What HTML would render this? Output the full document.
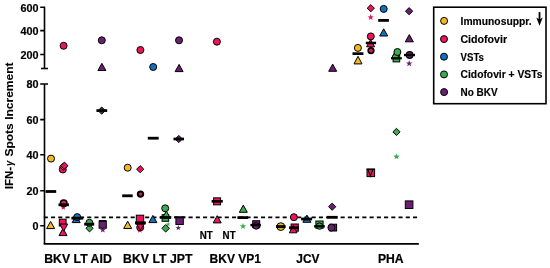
<!DOCTYPE html>
<html><head><meta charset="utf-8"><style>
html,body{margin:0;padding:0;background:#fff;}
body{width:550px;height:268px;overflow:hidden;}
svg{display:block;will-change:transform;}
</style></head><body>
<svg width="550" height="268" viewBox="0 0 550 268">
<rect width="550" height="268" fill="#fff"/>

<g stroke="#000" stroke-width="1.6" fill="none" stroke-linecap="butt">
  <path d="M40.2 7.3H44.5V68.5"/>
  <path d="M41.0 68.5H48.0"/>
  <path d="M40.2 30.6H44.5M40.2 54.5H44.5"/>
  <path d="M40.2 84.0H48.0M44.5 84.0V243.9"/>
  <path d="M43.7 243.9H418.8" stroke-width="1.9"/>
  <path d="M40.2 119.6H44.5M40.2 154.8H44.5M40.2 190.8H44.5M40.2 225.8H44.5"/>
</g>
<path d="M43.76 217.4H418" stroke="#000" stroke-width="1.6" stroke-dasharray="4.1 3.14" fill="none"/>

<circle cx="51.0" cy="158.6" r="3.5" fill="#F6B822" stroke="#000" stroke-width="1.0"/>
<path d="M50.60 221.40L54.60 228.60L46.60 228.60Z" fill="#F6B822" stroke="#000" stroke-width="1.0" stroke-linejoin="miter"/>
<rect x="45.60" y="190.10" width="10.60" height="2.8" fill="#000"/>
<circle cx="63.6" cy="45.8" r="3.5" fill="#EB165A" stroke="#000" stroke-width="1.0"/>
<circle cx="62.8" cy="169.5" r="3.5" fill="#EB165A" stroke="#000" stroke-width="1.0"/>
<path d="M63.20 163.10L66.80 166.70L63.20 170.30L59.60 166.70Z" fill="#EB165A" stroke="#000" stroke-width="1.0"/>
<path d="M64.40 162.10L68.00 165.70L64.40 169.30L60.80 165.70Z" fill="#EB165A" stroke="#000" stroke-width="1.0"/>
<polygon points="63.30,204.40 64.04,206.38 66.15,206.47 64.50,207.79 65.06,209.83 63.30,208.66 61.54,209.83 62.10,207.79 60.45,206.47 62.56,206.38" fill="#EB165A"/>
<circle cx="63.7" cy="203.2" r="3.3" fill="#EB165A" stroke="#000" stroke-width="1.5"/>
<rect x="58.50" y="203.40" width="10.40" height="2.8" fill="#000"/>
<path d="M63.00 228.40L67.00 235.60L59.00 235.60Z" fill="#EB165A" stroke="#000" stroke-width="1.0" stroke-linejoin="miter"/>
<rect x="59.30" y="219.20" width="6.80" height="6.80" fill="#EB165A" stroke="#000" stroke-width="1.0"/>
<path d="M63.70 231.20L67.70 224.00L59.70 224.00Z" fill="#EB165A" stroke="#000" stroke-width="1.0"/>
<path d="M76.20 215.40L80.20 222.60L72.20 222.60Z" fill="#1270BC" stroke="#000" stroke-width="1.0" stroke-linejoin="miter"/>
<circle cx="77.2" cy="217.1" r="3.5" fill="#1270BC" stroke="#000" stroke-width="1.0"/>
<rect x="71.40" y="216.80" width="11.80" height="2.8" fill="#000"/>
<path d="M89.50 224.70L93.10 228.30L89.50 231.90L85.90 228.30Z" fill="#39AD4B" stroke="#000" stroke-width="1.0"/>
<circle cx="89.4" cy="222.8" r="3.5" fill="#39AD4B" stroke="#000" stroke-width="1.0"/>
<rect x="84.20" y="222.80" width="10.00" height="2.8" fill="#000"/>
<circle cx="101.8" cy="40.3" r="3.5" fill="#6A1F71" stroke="#000" stroke-width="1.0"/>
<path d="M101.90 63.30L105.90 70.50L97.90 70.50Z" fill="#6A1F71" stroke="#000" stroke-width="1.0" stroke-linejoin="miter"/>
<path d="M101.70 107.00L105.30 110.60L101.70 114.20L98.10 110.60Z" fill="#6A1F71" stroke="#000" stroke-width="1.0"/>
<rect x="96.40" y="109.25" width="10.80" height="2.7" fill="#000"/>
<polygon points="102.80,226.50 103.61,228.68 105.94,228.78 104.12,230.23 104.74,232.47 102.80,231.19 100.86,232.47 101.48,230.23 99.66,228.78 101.99,228.68" fill="#6A1F71"/>
<rect x="99.10" y="221.00" width="7.20" height="7.20" fill="#6A1F71" stroke="#000" stroke-width="1.0"/>
<rect x="99.00" y="220.10" width="7.40" height="1.6" fill="#000"/>
<circle cx="127.7" cy="167.7" r="3.5" fill="#F6B822" stroke="#000" stroke-width="1.0"/>
<rect x="122.20" y="194.40" width="10.50" height="2.8" fill="#000"/>
<path d="M127.70 221.30L131.70 228.50L123.70 228.50Z" fill="#F6B822" stroke="#000" stroke-width="1.0" stroke-linejoin="miter"/>
<circle cx="140.4" cy="50.0" r="3.5" fill="#EB165A" stroke="#000" stroke-width="1.0"/>
<path d="M140.20 165.60L143.80 169.20L140.20 172.80L136.60 169.20Z" fill="#EB165A" stroke="#000" stroke-width="1.0"/>
<circle cx="140.5" cy="194.1" r="2.65" fill="#EB165A" stroke="#000" stroke-width="2.1"/>
<polygon points="139.80,226.70 140.61,228.88 142.94,228.98 141.12,230.43 141.74,232.67 139.80,231.39 137.86,232.67 138.48,230.43 136.66,228.98 138.99,228.88" fill="#EB165A"/>
<circle cx="140.2" cy="227.4" r="3.5" fill="#EB165A" stroke="#000" stroke-width="1.0"/>
<path d="M140.40 230.10L144.20 224.10L136.60 224.10Z" fill="#EB165A" stroke="#000" stroke-width="1.0"/>
<rect x="136.30" y="215.20" width="7.40" height="7.40" fill="#EB165A" stroke="#000" stroke-width="1.0"/>
<rect x="135.00" y="221.40" width="10.80" height="3.0" fill="#000"/>
<circle cx="153.2" cy="67.0" r="3.5" fill="#1270BC" stroke="#000" stroke-width="1.0"/>
<rect x="147.80" y="136.80" width="10.90" height="2.8" fill="#000"/>
<path d="M152.90 215.40L156.90 222.60L148.90 222.60Z" fill="#1270BC" stroke="#000" stroke-width="1.0" stroke-linejoin="miter"/>
<circle cx="165.2" cy="208.3" r="3.5" fill="#39AD4B" stroke="#000" stroke-width="1.0"/>
<polygon points="168.20,221.80 168.79,223.38 170.48,223.46 169.16,224.51 169.61,226.14 168.20,225.21 166.79,226.14 167.24,224.51 165.92,223.46 167.61,223.38" fill="#39AD4B"/>
<path d="M165.70 224.50L169.50 228.30L165.70 232.10L161.90 228.30Z" fill="#39AD4B" stroke="#000" stroke-width="1.0"/>
<rect x="162.10" y="214.70" width="6.60" height="6.60" fill="#39AD4B" stroke="#000" stroke-width="1.0"/>
<path d="M166.30 211.00L170.30 218.20L162.30 218.20Z" fill="#39AD4B" stroke="#000" stroke-width="1.0" stroke-linejoin="miter"/>
<rect x="159.90" y="216.10" width="11.40" height="2.6" fill="#000"/>
<circle cx="179.0" cy="40.3" r="3.5" fill="#6A1F71" stroke="#000" stroke-width="1.0"/>
<path d="M179.10 64.40L183.10 71.60L175.10 71.60Z" fill="#6A1F71" stroke="#000" stroke-width="1.0" stroke-linejoin="miter"/>
<path d="M178.80 135.40L182.40 139.00L178.80 142.60L175.20 139.00Z" fill="#6A1F71" stroke="#000" stroke-width="1.0"/>
<rect x="173.50" y="137.65" width="10.50" height="2.7" fill="#000"/>
<polygon points="178.30,225.00 179.02,226.91 181.06,227.00 179.46,228.28 180.00,230.25 178.30,229.12 176.60,230.25 177.14,228.28 175.54,227.00 177.58,226.91" fill="#6A1F71"/>
<rect x="175.90" y="217.10" width="7.40" height="7.40" fill="#6A1F71" stroke="#000" stroke-width="1.0"/>
<rect x="174.20" y="216.40" width="11.00" height="1.8" fill="#000"/>
<circle cx="216.9" cy="41.7" r="3.5" fill="#EB165A" stroke="#000" stroke-width="1.0"/>
<rect x="213.60" y="197.85" width="7.00" height="7.00" fill="#EB165A" stroke="#000" stroke-width="1.0"/>
<rect x="211.60" y="200.00" width="11.20" height="2.6" fill="#000"/>
<path d="M217.20 215.70L221.20 222.90L213.20 222.90Z" fill="#EB165A" stroke="#000" stroke-width="1.0" stroke-linejoin="miter"/>
<path d="M243.30 205.10L247.30 212.30L239.30 212.30Z" fill="#39AD4B" stroke="#000" stroke-width="1.0" stroke-linejoin="miter"/>
<rect x="237.40" y="216.20" width="10.70" height="2.8" fill="#000"/>
<polygon points="243.00,223.00 243.81,225.18 246.14,225.28 244.32,226.73 244.94,228.97 243.00,227.69 241.06,228.97 241.68,226.73 239.86,225.28 242.19,225.18" fill="#39AD4B"/>
<rect x="252.70" y="220.70" width="7.00" height="7.00" fill="#6A1F71" stroke="#000" stroke-width="1.0"/>
<circle cx="256.2" cy="225.9" r="3.3" fill="#6A1F71" stroke="#000" stroke-width="1.0"/>
<rect x="250.40" y="223.85" width="10.50" height="2.5" fill="#000"/>
<circle cx="280.8" cy="226.6" r="3.9" fill="#F6B822" stroke="#000" stroke-width="1.0"/>
<rect x="276.00" y="225.15" width="9.60" height="2.9" fill="#000"/>
<circle cx="293.9" cy="217.2" r="3.5" fill="#EB165A" stroke="#000" stroke-width="1.0"/>
<rect x="291.10" y="224.00" width="7.20" height="7.20" fill="#EB165A" stroke="#000" stroke-width="1.0"/>
<path d="M293.20 225.40L297.00 232.80L289.40 232.80Z" fill="#EB165A" stroke="#000" stroke-width="1.0" stroke-linejoin="miter"/>
<rect x="289.00" y="226.40" width="9.80" height="2.8" fill="#000"/>
<path d="M306.90 215.10L310.90 222.30L302.90 222.30Z" fill="#1270BC" stroke="#000" stroke-width="1.0" stroke-linejoin="miter"/>
<rect x="301.10" y="217.60" width="11.00" height="2.8" fill="#000"/>
<rect x="315.90" y="221.00" width="7.20" height="7.20" fill="#39AD4B" stroke="#000" stroke-width="1.0"/>
<circle cx="319.5" cy="226.1" r="3.2" fill="#39AD4B" stroke="#000" stroke-width="1.0"/>
<rect x="314.10" y="225.10" width="10.70" height="2.4" fill="#000"/>
<path d="M332.70 64.10L336.70 71.30L328.70 71.30Z" fill="#6A1F71" stroke="#000" stroke-width="1.0" stroke-linejoin="miter"/>
<path d="M332.20 203.10L335.80 206.70L332.20 210.30L328.60 206.70Z" fill="#6A1F71" stroke="#000" stroke-width="1.0"/>
<rect x="326.70" y="215.90" width="10.90" height="2.8" fill="#000"/>
<rect x="329.80" y="224.20" width="6.80" height="6.80" fill="#6A1F71" stroke="#000" stroke-width="1.0"/>
<circle cx="331.4" cy="227.6" r="3.5" fill="#6A1F71" stroke="#000" stroke-width="1.0"/>
<circle cx="357.9" cy="47.9" r="3.5" fill="#F6B822" stroke="#000" stroke-width="1.0"/>
<path d="M358.00 56.30L362.00 63.90L354.00 63.90Z" fill="#F6B822" stroke="#000" stroke-width="1.0" stroke-linejoin="miter"/>
<rect x="352.50" y="52.30" width="10.90" height="2.7" fill="#000"/>
<path d="M370.80 4.60L374.40 8.20L370.80 11.80L367.20 8.20Z" fill="#EB165A" stroke="#000" stroke-width="1.0"/>
<polygon points="370.70,14.10 371.51,16.28 373.84,16.38 372.02,17.83 372.64,20.07 370.70,18.79 368.76,20.07 369.38,17.83 367.56,16.38 369.89,16.28" fill="#EB165A"/>
<circle cx="371.0" cy="50.6" r="2.75" fill="#EB165A" stroke="#000" stroke-width="1.8"/>
<circle cx="370.8" cy="36.4" r="3.5" fill="#EB165A" stroke="#000" stroke-width="1.0"/>
<path d="M370.60 39.60L374.60 46.80L366.60 46.80Z" fill="#EB165A" stroke="#000" stroke-width="1.0" stroke-linejoin="miter"/>
<rect x="365.80" y="41.70" width="10.30" height="2.5" fill="#000"/>
<rect x="367.00" y="169.00" width="7.60" height="7.60" fill="#EB165A" stroke="#000" stroke-width="1.0"/>
<path d="M367.9 169.4L370.3 176.2L372.9 169.4" fill="none" stroke="#000" stroke-width="1.1"/>
<path d="M366.6 169.4H375" stroke="#000" stroke-width="1.2"/>
<circle cx="383.7" cy="8.9" r="3.5" fill="#1270BC" stroke="#000" stroke-width="1.0"/>
<rect x="378.20" y="19.00" width="10.70" height="2.8" fill="#000"/>
<path d="M383.70 28.80L387.70 36.00L379.70 36.00Z" fill="#1270BC" stroke="#000" stroke-width="1.0" stroke-linejoin="miter"/>
<rect x="393.10" y="55.30" width="6.60" height="6.60" fill="#39AD4B" stroke="#000" stroke-width="1.0"/>
<path d="M395.40 51.00L399.40 58.60L391.40 58.60Z" fill="#39AD4B" stroke="#000" stroke-width="1.0" stroke-linejoin="miter"/>
<circle cx="397.4" cy="52.0" r="3.5" fill="#39AD4B" stroke="#000" stroke-width="1.0"/>
<rect x="391.00" y="57.20" width="10.80" height="2.2" fill="#000"/>
<path d="M396.50 128.30L400.10 131.90L396.50 135.50L392.90 131.90Z" fill="#39AD4B" stroke="#000" stroke-width="1.0"/>
<polygon points="396.50,153.40 397.31,155.58 399.64,155.68 397.82,157.13 398.44,159.37 396.50,158.09 394.56,159.37 395.18,157.13 393.36,155.68 395.69,155.58" fill="#39AD4B"/>
<path d="M409.10 7.60L412.70 11.20L409.10 14.80L405.50 11.20Z" fill="#6A1F71" stroke="#000" stroke-width="1.0"/>
<path d="M409.30 34.60L413.30 41.80L405.30 41.80Z" fill="#6A1F71" stroke="#000" stroke-width="1.0" stroke-linejoin="miter"/>
<polygon points="409.20,60.30 410.01,62.48 412.34,62.58 410.52,64.03 411.14,66.27 409.20,64.99 407.26,66.27 407.88,64.03 406.06,62.58 408.39,62.48" fill="#6A1F71"/>
<circle cx="409.6" cy="55.0" r="3.3" fill="#6A1F71" stroke="#000" stroke-width="1.2"/>
<rect x="404.00" y="53.80" width="11.00" height="2.4" fill="#000"/>
<rect x="405.30" y="200.90" width="7.60" height="7.60" fill="#6A1F71" stroke="#000" stroke-width="1.0"/>

<g font-family="'Liberation Sans', sans-serif" font-weight="bold" font-size="10.8" text-anchor="end" fill="#000" stroke="#000" stroke-width="0.2">
  <text x="38.4" y="11.5">600</text>
  <text x="38.4" y="34.8">400</text>
  <text x="38.4" y="58.7">200</text>
  <text x="38.4" y="88.1">80</text>
  <text x="38.4" y="123.7">60</text>
  <text x="38.4" y="158.9">40</text>
  <text x="38.4" y="194.7">20</text>
  <text x="38.4" y="229.9">0</text>
</g>
<g font-family="'Liberation Sans', sans-serif" font-weight="bold" font-size="11.5" fill="#000" stroke="#000" stroke-width="0.1">
<text transform="translate(12.7 189.2) rotate(-90)">IFN-</text>
<text transform="translate(12.9 166.0) rotate(-90)" font-size="10.5" font-style="italic" textLength="5.2" lengthAdjust="spacingAndGlyphs">&#947;</text>
<text transform="translate(12.7 156.6) rotate(-90)" textLength="94.2" lengthAdjust="spacingAndGlyphs">Spots Increment</text>
</g>
<g font-family="'Liberation Sans', sans-serif" font-weight="bold" font-size="12" fill="#000" stroke="#000" stroke-width="0.2">
  <text x="44.2" y="262.7" textLength="67.6" lengthAdjust="spacingAndGlyphs">BKV LT AID</text>
  <text x="123.1" y="262.7" textLength="69.3" lengthAdjust="spacingAndGlyphs">BKV LT JPT</text>
  <text x="209.6" y="262.7" textLength="51.4" lengthAdjust="spacingAndGlyphs">BKV VP1</text>
  <text x="296.3" y="262.7" textLength="23.2" lengthAdjust="spacingAndGlyphs">JCV</text>
  <text x="377.9" y="262.7" textLength="25.7" lengthAdjust="spacingAndGlyphs">PHA</text>
</g>
<g font-family="'Liberation Sans', sans-serif" font-weight="bold" font-size="10.4" fill="#000" stroke="#000" stroke-width="0.2">
  <text x="199.7" y="238.8" textLength="13.0" lengthAdjust="spacingAndGlyphs">NT</text>
  <text x="222.6" y="238.8" textLength="13.0" lengthAdjust="spacingAndGlyphs">NT</text>
</g>


<rect x="433.7" y="7.2" width="112.3" height="96.5" fill="none" stroke="#000" stroke-width="1.6"/>
<g stroke="#000" stroke-width="1.0">
  <circle cx="444.1" cy="20.9" r="3.5" fill="#F6B822"/>
  <circle cx="444.0" cy="39.1" r="3.5" fill="#EB165A"/>
  <circle cx="444.0" cy="56.7" r="3.5" fill="#1270BC"/>
  <circle cx="444.0" cy="74.4" r="3.5" fill="#39AD4B"/>
  <circle cx="444.1" cy="92.1" r="3.5" fill="#6A1F71"/>
</g>
<g font-family="'Liberation Sans', sans-serif" font-weight="bold" font-size="10" fill="#000" stroke="#000" stroke-width="0.15">
  <text x="460.6" y="25.0" textLength="71.0" lengthAdjust="spacingAndGlyphs">Immunosuppr.</text>
  <text x="460.4" y="42.5" textLength="46.7" lengthAdjust="spacingAndGlyphs">Cidofovir</text>
  <text x="460.6" y="60.8" textLength="23.3" lengthAdjust="spacingAndGlyphs">VSTs</text>
  <text x="460.6" y="77.8" textLength="81.8" lengthAdjust="spacingAndGlyphs">Cidofovir + VSTs</text>
  <text x="460.6" y="95.8" textLength="37.0" lengthAdjust="spacingAndGlyphs">No BKV</text>
</g>
<path d="M539.5 12.1V20" stroke="#000" stroke-width="1.8"/>
<path d="M536.3 17.6L539.5 19.6L542.7 17.6L539.5 25.7Z" fill="#000"/>

</svg>
</body></html>
